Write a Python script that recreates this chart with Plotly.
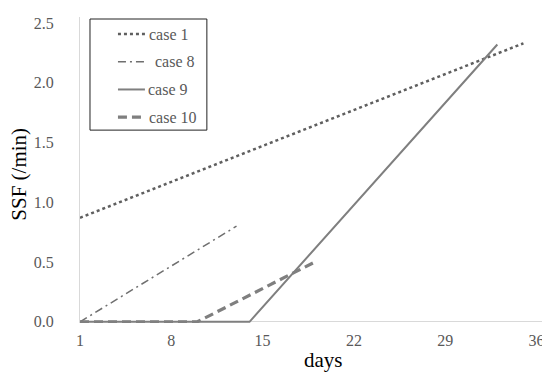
import plotly.graph_objects as go

# Data
case1_days = [1, 35]
case1_ssf = [0.87, 2.33]
case8_days = [1, 13]
case8_ssf = [0.0, 0.80]
case9_days = [1, 14, 33]
case9_ssf = [0.0, 0.0, 2.32]
case10_days = [1, 10, 19]
case10_ssf = [0.0, 0.0, 0.50]

x_ticks = [1, 8, 15, 22, 29, 36]
y_ticks = [0.0, 0.5, 1.0, 1.5, 2.0, 2.5]

serif = "Liberation Serif, Times New Roman, serif"
grey = "#7f7f7f"

series = [
    ("case 1", case1_days, case1_ssf, dict(color="#5f5f5f", width=2.5, dash="dot"), 149),
    ("case 8", case8_days, case8_ssf, dict(color="#6f6f6f", width=1.5, dash="8px,4px,2px,4px"), 155),
    ("case 9", case9_days, case9_ssf, dict(color=grey, width=2), 148),
    ("case 10", case10_days, case10_ssf, dict(color=grey, width=3.2, dash="9px,5px"), 149),
]

# The page body has an 8px margin, so the figure is 8px smaller than the window.
W, H = 542, 366
L, R, T, B = 72, 6.5, 9, 51.3
pw, ph = W - L - R, H - T - B


def px(x):  # page pixel -> paper x
    return (x - 8 - L) / pw


def py(y):  # page pixel -> paper y
    return (H - B - (y - 8)) / ph


fig = go.Figure()
shapes = []
annotations = []
# legend frame
shapes.append(dict(type="rect", xref="paper", yref="paper",
                   x0=px(90), x1=px(207), y0=py(130), y1=py(19),
                   line=dict(color="#222222", width=1), fillcolor="white", layer="above"))
for i, (name, xs, ys, ln, tx) in enumerate(series):
    fig.add_trace(go.Scatter(x=xs, y=ys, mode="lines", name=name, line=ln,
                             showlegend=False))
    yy = 34 + 27.7 * i
    shapes.append(dict(type="line", xref="paper", yref="paper",
                       x0=px(118), x1=px(145), y0=py(yy), y1=py(yy),
                       line=ln, layer="above"))
    annotations.append(dict(text=name, xref="paper", yref="paper",
                            x=px(tx - 2), y=py(yy), xanchor="left", yanchor="middle",
                            showarrow=False,
                            font=dict(family=serif, size=16, color="#595959")))

# axis titles
annotations.append(dict(text="days", xref="paper", yref="paper",
                        x=px(324), y=py(360), xanchor="center", yanchor="middle",
                        showarrow=False,
                        font=dict(family=serif, size=21, color="black")))
annotations.append(dict(text="SSF (/min)", xref="paper", yref="paper",
                        x=px(19.5), y=py(174), xanchor="center", yanchor="middle",
                        textangle=-90, showarrow=False,
                        font=dict(family=serif, size=21, color="black")))

fig.update_layout(
    width=W, height=H,
    margin=dict(l=L, r=R, t=T, b=B),
    paper_bgcolor="white", plot_bgcolor="white",
    font=dict(family=serif, color="#595959", size=16),
    shapes=shapes, annotations=annotations,
    showlegend=False,
    xaxis=dict(range=[1, 36.5], tickmode="array", tickvals=x_ticks,
               ticktext=[str(v) for v in x_ticks], automargin=False,
               showgrid=False, zeroline=False, showline=False,
               ticks="", ticklabelstandoff=6,
               tickfont=dict(family=serif, size=16, color="#595959")),
    yaxis=dict(range=[-0.01, 2.55], tickmode="array", tickvals=y_ticks,
               ticktext=["%.1f" % v for v in y_ticks], automargin=False,
               showgrid=False, zeroline=True, zerolinecolor="#d9d9d9", zerolinewidth=1,
               showline=True, linecolor="#d9d9d9", linewidth=1,
               ticks="", ticklabelstandoff=22,
               tickfont=dict(family=serif, size=16, color="#595959")),
)

fig.write_html("out.html")
